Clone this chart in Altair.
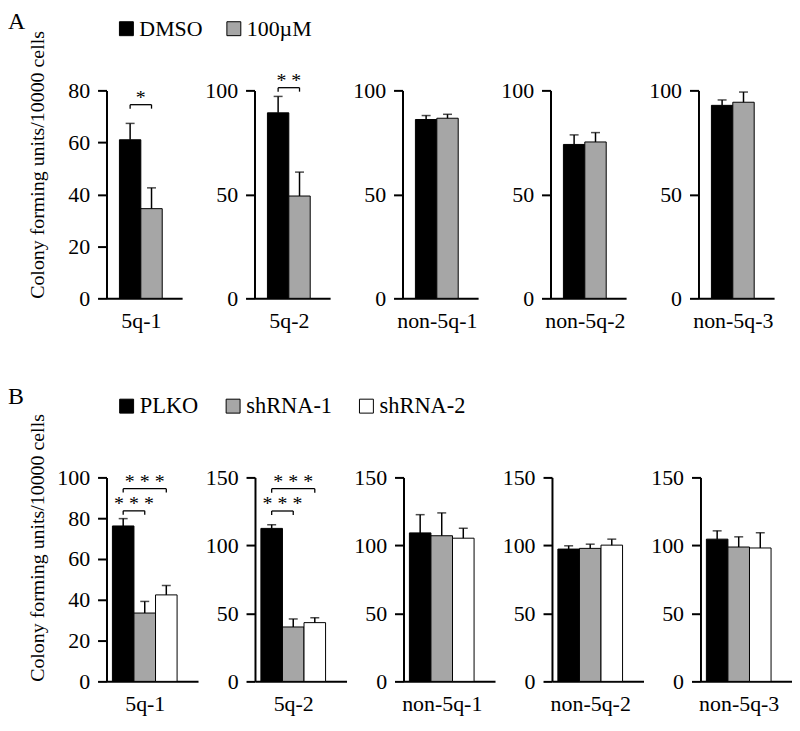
import altair as alt
import pandas as pd

FONT = "Liberation Serif"
BLACK = "#000000"
GRAY = "#a6a6a6"
WHITE = "#ffffff"

cell_lines = ["5q-1", "5q-2", "non-5q-1", "non-5q-2", "non-5q-3"]
y_title = "Colony forming units/10000 cells"

# ---------------- Panel A data ----------------
a_groups = ["DMSO", "100µM"]
a_colors = [BLACK, GRAY]
a_dmso_mean = [61.0, 89.2, 86.0, 74.0, 92.8]
a_dmso_err = [6.3, 7.9, 1.9, 4.6, 2.6]
a_drug_mean = [34.5, 49.2, 86.6, 75.2, 94.3]
a_drug_err = [8.0, 11.5, 1.9, 4.5, 4.9]
a_ymax = [80, 100, 100, 100, 100]
a_ticks = [[0, 20, 40, 60, 80], [0, 50, 100], [0, 50, 100], [0, 50, 100], [0, 50, 100]]

a_sig_panel = [0, 1]
a_sig_from = ["DMSO", "DMSO"]
a_sig_to = ["100µM", "100µM"]
a_sig_mid = ["DMSO", "DMSO"]
a_sig_adjacent = [True, True]
a_sig_y = [74.5, 101.3]
a_sig_label = ["*", "* *"]

# ---------------- Panel B data ----------------
b_groups = ["PLKO", "shRNA-1", "shRNA-2"]
b_colors = [BLACK, GRAY, WHITE]
b_plko_mean = [76.2, 112.5, 109.2, 97.3, 104.6]
b_plko_err = [3.6, 2.7, 13.4, 2.4, 6.1]
b_sh1_mean = [33.5, 40.0, 107.1, 97.8, 98.8]
b_sh1_err = [5.7, 5.9, 16.8, 3.1, 7.5]
b_sh2_mean = [42.4, 43.2, 105.3, 100.2, 98.1]
b_sh2_err = [4.6, 3.6, 7.3, 4.4, 11.2]
b_ymax = [100, 150, 150, 150, 150]
b_ticks = [[0, 20, 40, 60, 80, 100], [0, 50, 100, 150], [0, 50, 100, 150],
           [0, 50, 100, 150], [0, 50, 100, 150]]

b_sig_panel = [0, 0, 1, 1]
b_sig_from = ["PLKO", "PLKO", "PLKO", "PLKO"]
b_sig_to = ["shRNA-1", "shRNA-2", "shRNA-1", "shRNA-2"]
b_sig_mid = ["PLKO", "shRNA-1", "PLKO", "shRNA-1"]
b_sig_adjacent = [True, False, True, False]
b_sig_y = [83.6, 94.5, 125.3, 141.7]
b_sig_label = ["* * *", "* * *", "* * *", "* * *"]


def make_panel(idx, groups, colors, means, errs, ymax, yticks, line, width, height,
               pad_outer, align, letter, legend_y, letter_dy, legend_font, legend_gap, sig):
    first = idx == 0
    n = len(groups)
    df = pd.DataFrame({
        "group": groups,
        "mean": means,
        "top": [m + e for m, e in zip(means, errs)],
    })
    xs = alt.Scale(domain=groups, paddingInner=0, paddingOuter=pad_outer, align=align)
    ys = alt.Scale(domain=[0, ymax], nice=False, zero=True)
    step = width / (n + 2 * pad_outer)
    left_pad = (width - step * n) * align
    xaxis = alt.Axis(
        title=line, labels=False, ticks=False, domain=True, domainWidth=2,
        domainColor="black", minExtent=0, maxExtent=0,
        titleFont=FONT, titleFontSize=22, titleFontWeight="normal", titleColor="black",
        titlePadding=12, titleX=left_pad + step * n / 2, titleAlign="center",
        titleBaseline="top",
    )
    yaxis_kw = dict(
        values=yticks, grid=False, domainWidth=2, domainColor="black",
        tickWidth=2, tickSize=9, tickColor="black",
        labelFont=FONT, labelFontSize=22, labelColor="black", labelPadding=8,
        labelFlush=False, labelOverlap=False,
    )
    if first:
        yaxis = alt.Axis(
            title=y_title, titleFont=FONT, titleFontSize=20, titleFontWeight="normal",
            titleColor="black", titleAnchor="start", titlePadding=7,
            minExtent=52, maxExtent=52, **yaxis_kw)
        legend = alt.Legend(
            orient="none", legendX=9, legendY=legend_y, direction="horizontal",
            title=None, symbolType="square", symbolSize=196, symbolStrokeColor="black",
            symbolStrokeWidth=1, symbolOpacity=1, labelFont=FONT, labelFontSize=legend_font,
            labelColor="black", labelOffset=2, columnPadding=legend_gap, padding=0,
        )
    else:
        yaxis = alt.Axis(title=None, **yaxis_kw)
        legend = None

    def X(field, **kw):
        return alt.X(field, scale=xs, axis=xaxis, sort=groups, **kw)

    def Y(field):
        return alt.Y(field, scale=ys, axis=yaxis)

    base = alt.Chart(df)
    bars = base.mark_bar(stroke="black", strokeWidth=1).encode(
        x=X("group:N"),
        y=Y("mean:Q"),
        fill=alt.Fill("group:N", scale=alt.Scale(domain=groups, range=colors),
                      legend=legend, sort=groups),
    )
    err = base.mark_rule(color="black", strokeWidth=1.5).encode(
        x=X("group:N"), y=Y("mean:Q"), y2="top:Q",
    )
    cap = base.mark_tick(color="black", thickness=1.5, size=9).encode(
        x=X("group:N"), y=Y("top:Q"),
    )
    layers = [bars, err, cap]

    sig_panel, sig_from, sig_to, sig_mid, sig_adj, sig_y, sig_label = sig
    rows = [
        dict(f=f, t=t, m=m, adj=a, y=y, label=l)
        for p, f, t, m, a, y, l in zip(sig_panel, sig_from, sig_to, sig_mid, sig_adj, sig_y, sig_label)
        if p == idx
    ]
    if rows:
        sdf = pd.DataFrame(rows)
        sbase = alt.Chart(sdf)
        hline = sbase.mark_rule(color="black", strokeWidth=1.3).encode(
            x=X("f:N"), x2="t:N", y=Y("y:Q"))
        leg1 = sbase.mark_rule(color="black", strokeWidth=1.3, y2Offset=4).encode(
            x=X("f:N"), y=Y("y:Q"), y2="y:Q")
        leg2 = sbase.mark_rule(color="black", strokeWidth=1.3, y2Offset=4).encode(
            x=X("t:N"), y=Y("y:Q"), y2="y:Q")
        txt_adj = sbase.transform_filter("datum.adj").mark_text(
            font=FONT, fontSize=20, baseline="alphabetic", dy=-1, color="black").encode(
            x=X("m:N", bandPosition=1), y=Y("y:Q"), text="label:N")
        txt_mid = sbase.transform_filter("!datum.adj").mark_text(
            font=FONT, fontSize=20, baseline="alphabetic", dy=-1, color="black").encode(
            x=X("m:N", bandPosition=0.5), y=Y("y:Q"), text="label:N")
        layers += [hline, leg1, leg2, txt_adj, txt_mid]

    props = dict(width=width, height=height)
    if first:
        props["title"] = alt.TitleParams(
            text=letter, anchor="start", frame="group", font=FONT, fontSize=24,
            fontWeight="normal", color="black", dx=-99, dy=letter_dy, offset=0,
            baseline="alphabetic")
    return alt.layer(*layers).properties(**props)


panels_a = []
for i, line in enumerate(cell_lines):
    panels_a.append(make_panel(
        i, a_groups, a_colors, [a_dmso_mean[i], a_drug_mean[i]], [a_dmso_err[i], a_drug_err[i]],
        a_ymax[i], a_ticks[i], line, 76, 209, 0.767, 0.394, "A", -73, 35, 22, 20,
        (a_sig_panel, a_sig_from, a_sig_to, a_sig_mid, a_sig_adjacent, a_sig_y, a_sig_label)))

panels_b = []
for i, line in enumerate(cell_lines):
    panels_b.append(make_panel(
        i, b_groups, b_colors, [b_plko_mean[i], b_sh1_mean[i], b_sh2_mean[i]],
        [b_plko_err[i], b_sh1_err[i], b_sh2_err[i]],
        b_ymax[i], b_ticks[i], line, 92, 205, 0.623, 0.22, "B", -83, 33, 22.5, 23,
        (b_sig_panel, b_sig_from, b_sig_to, b_sig_mid, b_sig_adjacent, b_sig_y, b_sig_label)))

row_a = alt.hconcat(*panels_a, spacing=72.75, bounds="flush").resolve_scale(
    x="independent", y="independent", fill="independent")
row_b = alt.hconcat(*panels_b, spacing=57.25, bounds="flush").resolve_scale(
    x="independent", y="independent", fill="independent")

chart = alt.vconcat(row_a, row_b, spacing=389, bounds="flush").resolve_scale(
    x="independent", y="independent", fill="independent"
).properties(
    padding={"left": 0, "top": 0, "right": 0, "bottom": 0},
    background="white",
).configure_view(stroke=None)

chart.save("out.html", embed_options={"renderer": "svg", "actions": False})
